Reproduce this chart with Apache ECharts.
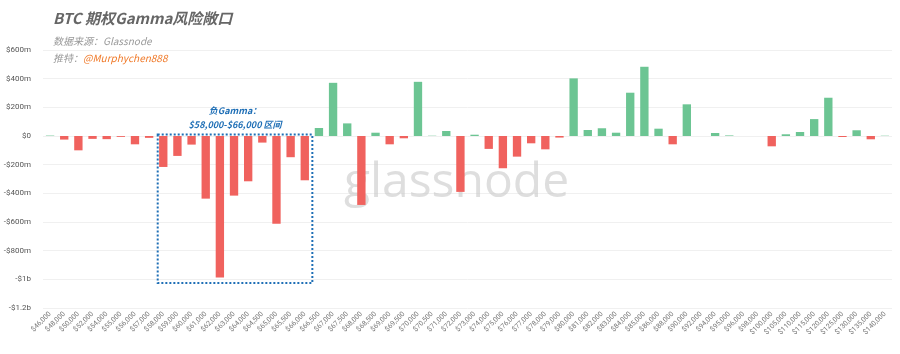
<!DOCTYPE html>
<html>
<head>
<meta charset="utf-8">
<script src="https://cdn.jsdelivr.net/npm/echarts@6/dist/echarts.min.js"></script>
<style>
html,body{margin:0;padding:0;background:#fff;}
#c{width:900px;height:354px;}
</style>
</head>
<body>
<div id="c"></div>
<script>
// Strike prices (categories)
const categories = ['$46,000','$48,000','$50,000','$52,000','$54,000','$55,000','$56,000','$57,000','$58,000','$59,000','$60,000','$61,000','$62,000','$63,000','$64,000','$64,500','$65,000','$65,500','$66,000','$66,500','$67,000','$67,500','$68,000','$68,500','$69,000','$69,500','$70,000','$70,500','$71,000','$72,000','$73,000','$74,000','$75,000','$76,000','$77,000','$78,000','$79,000','$80,000','$81,000','$82,000','$83,000','$84,000','$85,000','$86,000','$88,000','$90,000','$92,000','$94,000','$95,000','$96,000','$98,000','$100,000','$105,000','$110,000','$115,000','$120,000','$125,000','$130,000','$135,000','$140,000'];
// Gamma exposure in millions USD
const gammaValues = [3,-25,-100,-20,-22,-6,-58,-13,-216,-139,-60,-437,-987,-416,-316,-46,-613,-148,-309,56,371,88,-481,23,-58,-16,378,2,35,-390,9,-90,-225,-144,-51,-93,-11,402,42,54,23,302,483,51,-58,221,0,21,4,0,0,-72,12,28,118,267,-7,40,-23,2];
// Y-axis ticks (millions)
const yTicks = [-1200,-1000,-800,-600,-400,-200,0,200,400,600];
// Highlighted negative gamma range
const boxRange = ['$58,000','$66,000'];
const boxValueRange = [10,-1025];

const POS = '#6cc593', NEG = '#f0625e';
const fmtY = v => {
  if (v === 0) return '$0';
  const s = v < 0 ? '-' : '';
  const a = Math.abs(v);
  return a >= 1000 ? s + '$' + (a/1000) + 'b' : s + '$' + a + 'm';
};

const chart = echarts.init(document.getElementById('c'), null, {renderer:'canvas'});
const option = {
  animation:false,
  backgroundColor:'#fff',
  grid:{left:43,right:8,top:50,bottom:46,containLabel:false},
  xAxis:{
    type:'category',
    data:categories,
    axisLine:{show:false},
    axisTick:{show:false},
    axisLabel:{interval:0,rotate:45,fontSize:7,color:'#777',margin:5,fontFamily:'Roboto'}
  },
  yAxis:{
    type:'value',
    min:yTicks[0],max:yTicks[yTicks.length-1],interval:200,
    axisLine:{show:false},axisTick:{show:false},
    splitLine:{lineStyle:{color:'#f0f0f0',width:1}},
    axisLabel:{formatter:fmtY,fontSize:8,color:'#555',margin:12,fontFamily:'Roboto'}
  },
  series:[{
    type:'bar',
    data:gammaValues.map(v=>({value:v,itemStyle:{color:v>=0?POS:NEG}})),
    barWidth:'59%',
    z:3
  }],
  graphic:[
    {type:'text',left:53,top:11,style:{text:'BTC 期权Gamma风险敞口',font:'italic bold 15px "Noto Sans CJK SC", sans-serif',fill:'#666'}},
    {type:'text',left:53,top:36,style:{text:'数据来源：Glassnode',font:'italic 10px "Noto Sans CJK SC", sans-serif',fill:'#999'}},
    {type:'text',left:53,top:53,style:{rich:{a:{font:'italic 10px "Noto Sans CJK SC", sans-serif',fill:'#999'},b:{font:'italic 10px "Noto Sans CJK SC", sans-serif',fill:'#f07a2a'}},text:'{a|推特：}{b|@Murphychen888}'}}
  ]
};
chart.setOption(option);

// Build watermark and annotation box from axis scale
const c0 = chart.convertToPixel({xAxisIndex:0}, boxRange[0]);
const c1 = chart.convertToPixel({xAxisIndex:0}, boxRange[1]);
const band = chart.convertToPixel({xAxisIndex:0}, categories[1]) - chart.convertToPixel({xAxisIndex:0}, categories[0]);
const yTop = chart.convertToPixel({yAxisIndex:0}, boxValueRange[0]);
const yBot = chart.convertToPixel({yAxisIndex:0}, boxValueRange[1]);
const x0 = c0 - band/2 + 1.5, x1 = c1 + band/2 + 0.5;
const gridRect = chart.getModel().getComponent('grid').coordinateSystem.getRect();
option.graphic.push(
  {type:'text',z:1,x:gridRect.x+gridRect.width/2-11,y:chart.convertToPixel({yAxisIndex:0},-300)+4,
   style:{text:'glassnode',font:'500 48px "Open Sans", sans-serif',fill:'rgba(200,200,200,0.6)',align:'center',verticalAlign:'middle'}},
  {type:'rect',z:10,shape:{x:x0,y:yTop,width:x1-x0,height:yBot-yTop},
   style:{fill:'none',stroke:'#1f6fb6',lineWidth:2,lineDash:[2,2]}},
  {type:'text',z:10,x:(x0+x1)/2,y:yTop-24,style:{text:'负Gamma：',font:'italic bold 9px "Noto Sans CJK SC", sans-serif',fill:'#1f6fb6',align:'center',verticalAlign:'middle'}},
  {type:'text',z:10,x:(x0+x1)/2,y:yTop-10,style:{text:'$58,000-$66,000 区间',font:'italic bold 9px "Noto Sans CJK SC", sans-serif',fill:'#1f6fb6',align:'center',verticalAlign:'middle'}}
);
chart.setOption({graphic:option.graphic});
</script>
</body>
</html>
